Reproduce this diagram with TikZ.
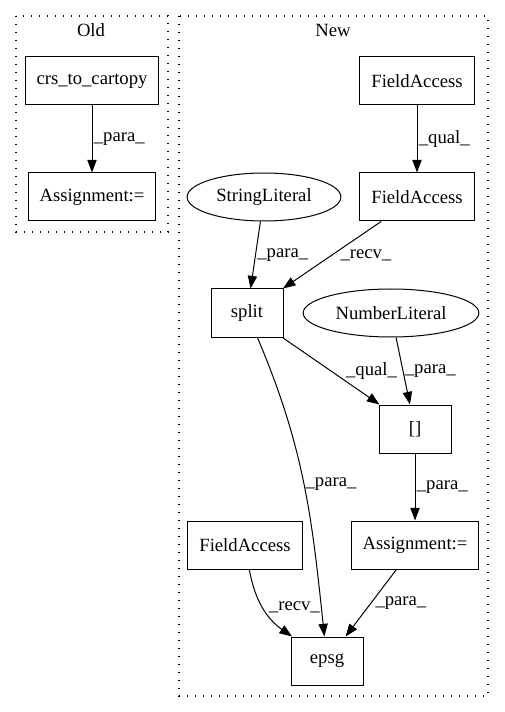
\documentclass[tikz,border=0pt]{standalone}
\usepackage{fontspec}
\setmainfont{Liberation Serif}
\usetikzlibrary{shapes.geometric,arrows.meta}

\begin{document}
\begin{tikzpicture}[x=0.75pt,y=0.75pt,
			>={Triangle[length=9.5pt,width=7pt]},
			every node/.style={font=\fontsize{14}{16}\selectfont},
			box/.style={draw,rectangle,minimum width=54pt,minimum height=36pt,inner xsep=8.6pt,line width=0.75pt},
			lit/.style={draw,ellipse,minimum height=36pt,inner xsep=5pt,line width=0.75pt},
			cluster/.style={line width=0.9pt,dash pattern=on 1.1pt off 4.9pt},
			edge/.style={->,line width=0.75pt},
			lbl/.style={inner sep=1pt}]
			\useasboundingbox (0,0) rectangle (504,-712);
			
			%clusters
			\draw[cluster] (16,-16) rectangle (168,-232);
			\draw[cluster] (179,-16) rectangle (488,-696);
			\node (oldtitle) at (91,-30) {Old};
			\node (newtitle) at (333,-30) {New};
			
			%old
			\node[box] (crs) at (92,-81) {crs\_to\_cartopy};
			\node[box] (assignOld) at (92,-197) {Assignment:=};
			
			%new
			\node[box] (fa1) at (417,-81) {FieldAccess};
			\node[box] (fa2) at (417,-197) {FieldAccess};
			\node[lit] (strlit) at (264,-197) {StringLiteral};
			\node[box] (split) at (247,-313) {split};
			\node[lit] (numlit) at (391,-313) {NumberLiteral};
			\node[box] (idx) at (415,-429) {[]};
			\node[box] (assignNew) at (415,-545) {Assignment:=};
			\node[box] (fa3) at (245,-545) {FieldAccess};
			\node[box] (epsg) at (327,-661) {epsg};
			
			%edges
			\draw[edge] (crs) -- (assignOld) node[lbl,midway,right] {\_para\_};
			\draw[edge] (fa1) -- (fa2) node[lbl,midway,right] {\_qual\_};
			\draw[edge] (strlit) -- (split) node[lbl,midway,right] {\_para\_};
			\draw[edge] (fa2) -- (split) node[lbl,midway,right=5pt] {\_recv\_};
			\draw[edge] (split) -- (idx) node[lbl,midway,right=10pt] {\_qual\_};
			\draw[edge] (numlit) -- (idx) node[lbl,midway,right] {\_para\_};
			\draw[edge] (split) to[out=-67,in=96] node[lbl,pos=0.5,right] {\_para\_} (epsg);
			\draw[edge] (idx) -- (assignNew) node[lbl,midway,right] {\_para\_};
			\draw[edge] (fa3) to[out=-80,in=145] node[lbl,pos=0.5,right=3pt] {\_recv\_} (epsg);
			\draw[edge] (assignNew) -- (epsg) node[lbl,midway,right=2pt] {\_para\_};
\end{tikzpicture}
\end{document}
